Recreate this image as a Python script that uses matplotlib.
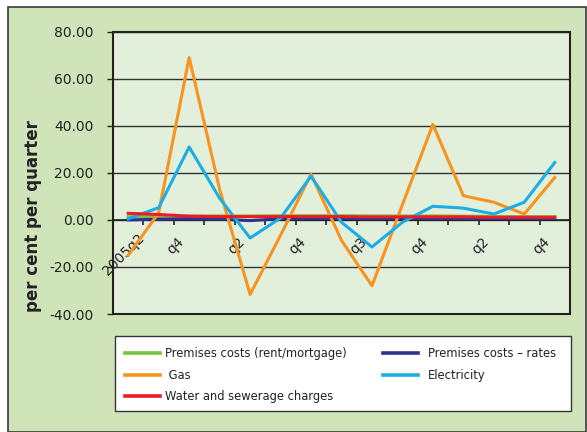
import matplotlib
matplotlib.use("Agg")
import matplotlib.pyplot as plt
import matplotlib.transforms as mtransforms
from matplotlib.patches import Rectangle
import numpy as np

# ---- data ----
tick_labels = ['2005q2', 'q4', 'q2', 'q4', 'q3', 'q4', 'q2', 'q4']
n_periods = 15
rent = [1.4, 1.5, 1.6, 1.7, 1.7, 1.8, 1.8, 1.8, 1.7, 1.7, 1.7, 1.6, 1.5, 1.4, 1.4]
rates = [0.0, 0.3, 0.5, 0.3, -0.3, 0.5, 0.6, 0.6, 0.6, 0.6, 0.6, 0.6, 0.6, 0.6, 0.6]
gas = [-15.0, 3.0, 69.0, 13.0, -31.7, -6.5, 19.4, -8.7, -28.0, 6.5, 40.6, 10.3, 7.5, 2.5, 18.0]
electricity = [0.5, 5.2, 31.0, 9.2, -7.7, 0.8, 18.6, -1.0, -11.5, -1.0, 5.8, 5.0, 2.5, 7.5, 24.4]
water = [2.8, 2.3, 1.6, 1.4, 1.4, 1.4, 1.4, 1.4, 1.3, 1.3, 1.3, 1.3, 1.1, 1.1, 1.1]
y_ticks = [-40, -20, 0, 20, 40, 60, 80]

W, H = 587, 432
fig = plt.figure(figsize=(W / 100, H / 100), dpi=100)
fig.patch.set_facecolor('white')

# outer green panel
fig.patches.append(Rectangle((7.5 / W, 0), (W - 9) / W, 1 - 7 / H,
                             transform=fig.transFigure, facecolor='#d0e4ba',
                             edgecolor='#3a3a3a', linewidth=1.2, zorder=-10))

ax = fig.add_axes([113 / W, 1 - 314 / H, (570 - 113) / W, (314 - 31.7) / H])
ax.set_zorder(1)
ax.set_facecolor('#e2efdb')

x = np.arange(n_periods)
ax.plot(x, rent, color='#7dc242', lw=2.2, label='Premises costs (rent/mortgage)', zorder=3)
ax.plot(x, rates, color='#2e3192', lw=2.2, label='Premises costs \u2013 rates', zorder=3)
ax.plot(x, gas, color='#f7931e', lw=2.2, label=' Gas', zorder=3)
ax.plot(x, electricity, color='#1aaee5', lw=2.2, label='Electricity', zorder=3)
ax.plot(x, water, color='#ed1c24', lw=2.2, label='Water and sewerage charges', zorder=3)

ax.set_xlim(-0.5, n_periods - 0.5)
ax.set_ylim(-40, 80)
ax.set_yticks(y_ticks)
ax.set_yticklabels([f'{v:.2f}' for v in y_ticks], fontsize=10, color='#222222')
ax.yaxis.grid(True, color='#333333', lw=1.0)
ax.set_axisbelow(True)

for s in ['top', 'right', 'left']:
    ax.spines[s].set_visible(False)
ax.spines['bottom'].set_position(('data', 0))
ax.spines['bottom'].set_color('#222222')
ax.spines['bottom'].set_linewidth(1.2)
ax.add_patch(Rectangle((0, 0), 1, 1, transform=ax.transAxes, fill=False,
                       edgecolor='#222222', linewidth=1.5, clip_on=False, zorder=5))

ax.tick_params(axis='y', direction='out', length=4.3, width=1.0, color='#222222', pad=9.5)
label_pos = np.arange(0, n_periods, 2)
ax.set_xticks(label_pos)
ax.set_xticklabels(tick_labels, rotation=45, ha='right', va='center',
                   rotation_mode='anchor', fontsize=10, color='#222222')
ax.set_xticks(np.arange(0.5, n_periods - 1, 1), minor=True)
ax.tick_params(axis='x', which='major', length=0, pad=14)
ax.tick_params(axis='x', which='minor', direction='out', length=3.6, width=1.2, color='#222222')

for i, lab in enumerate(ax.get_xticklabels()):
    if i == 0:
        off = mtransforms.ScaledTranslation(14 / 100, 4 / 100, fig.dpi_scale_trans)
    else:
        off = mtransforms.ScaledTranslation(-7 / 100, 0, fig.dpi_scale_trans)
    lab.set_transform(lab.get_transform() + off)

ax.set_ylabel('per cent per quarter', fontsize=12, fontweight='bold', color='#222222')
ax.yaxis.set_label_coords(42 / W, 0.5, transform=fig.transFigure)

# legend box
fig.patches.append(Rectangle((115 / W, 1 - 411 / H), 456 / W, 75 / H,
                             transform=fig.transFigure, facecolor='white',
                             edgecolor='#333333', linewidth=1.0, zorder=1))
handles, labels = ax.get_legend_handles_labels()
col1 = [0, 2, 4]
col2 = [1, 3]
leg_kw = dict(frameon=False, fontsize=8.3, handlelength=3.0,
              labelspacing=0.75, borderpad=0, borderaxespad=0, loc='upper left')
leg1 = fig.legend([handles[i] for i in col1], [labels[i] for i in col1],
                  bbox_to_anchor=(125 / W, 1 - 347 / H), handletextpad=0.45, **leg_kw)
leg2 = fig.legend([handles[i] for i in col2], [labels[i] for i in col2],
                  bbox_to_anchor=(383 / W, 1 - 347 / H), handletextpad=0.9, **leg_kw)
for leg in (leg1, leg2):
    leg.set_zorder(2)
    for t in leg.get_texts():
        t.set_color('#222222')
    for h in leg.legend_handles:
        h.set_linewidth(2.6)

fig.savefig('out.png', dpi=100, facecolor=fig.get_facecolor())
